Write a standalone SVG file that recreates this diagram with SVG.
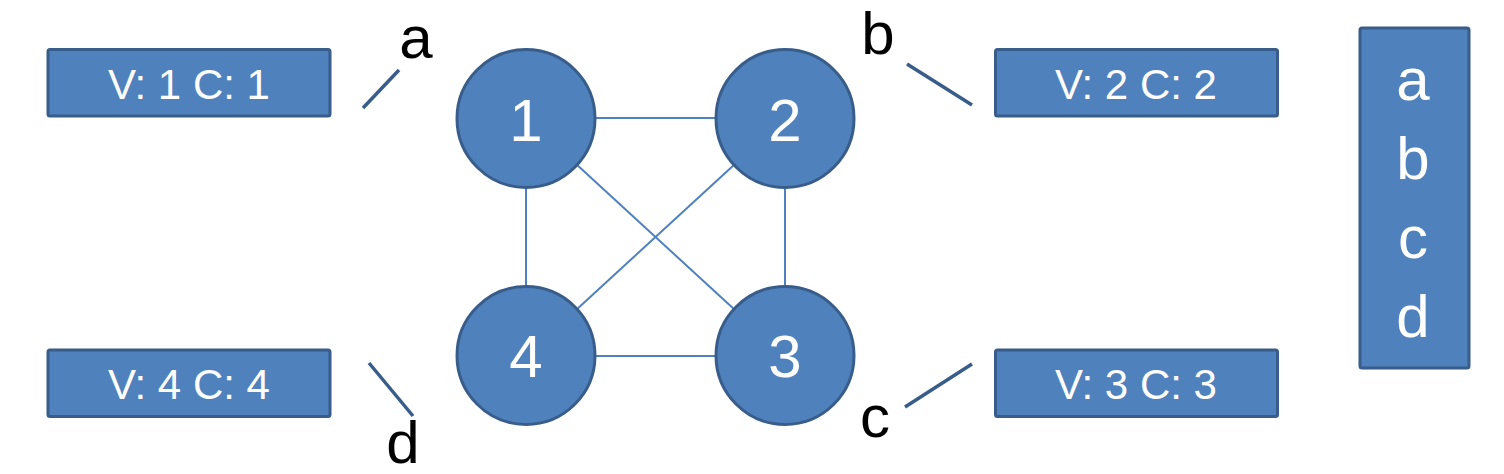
<svg xmlns="http://www.w3.org/2000/svg" width="1504" height="474" viewBox="0 0 1504 474">
<style>
.box{fill:#4f81bd;stroke:#385d8a;stroke-width:3}
.wt{fill:#fff;font-family:"Liberation Sans",Arial,sans-serif;text-anchor:middle}
.bt{fill:#000;font-family:"Liberation Sans",Arial,sans-serif;font-size:60px;text-anchor:middle}
.edge{stroke:#4f81bd;stroke-width:2;fill:none}
.ptr{stroke:#385d8a;stroke-width:3.5;fill:none}
</style>
<rect width="1504" height="474" fill="#fff"/>
<g id="connectors">
<line class="edge" x1="526" y1="118" x2="785" y2="118"/>
<line class="edge" x1="526" y1="118" x2="526" y2="356"/>
<line class="edge" x1="785" y1="118" x2="785" y2="356"/>
<line class="edge" x1="526" y1="356" x2="785" y2="356"/>
<line class="edge" x1="526" y1="118" x2="785" y2="356"/>
<line class="edge" x1="785" y1="118" x2="526" y2="356"/>
<line class="ptr" x1="363" y1="108" x2="399" y2="70"/>
<line class="ptr" x1="907" y1="64" x2="972" y2="105"/>
<line class="ptr" x1="905" y1="407" x2="972" y2="364"/>
<line class="ptr" x1="369" y1="363" x2="413" y2="416"/>
</g>
<g id="n1"><circle class="box" cx="526" cy="118.5" r="69"/><text class="wt" x="526" y="141" font-size="60">1</text></g>
<g id="n2"><circle class="box" cx="785" cy="118.5" r="69"/><text class="wt" x="785" y="141" font-size="60">2</text></g>
<g id="n3"><circle class="box" cx="785" cy="355.5" r="69"/><text class="wt" x="785" y="377" font-size="60">3</text></g>
<g id="n4"><circle class="box" cx="526" cy="355.5" r="69"/><text class="wt" x="526" y="377" font-size="60">4</text></g>
<g id="v1"><rect class="box" x="48" y="49.5" width="282" height="66.5" rx="2"/><text class="wt" x="189" y="99" font-size="42">V: 1 C: 1</text></g>
<g id="v2"><rect class="box" x="995.5" y="49.5" width="282" height="66.5" rx="2"/><text class="wt" x="1136" y="99" font-size="42">V: 2 C: 2</text></g>
<g id="v3"><rect class="box" x="995.5" y="350" width="282" height="66.5" rx="2"/><text class="wt" x="1136" y="399" font-size="42">V: 3 C: 3</text></g>
<g id="v4"><rect class="box" x="48" y="350" width="282" height="66.5" rx="2"/><text class="wt" x="189" y="399" font-size="42">V: 4 C: 4</text></g>
<g id="legend"><rect class="box" x="1360" y="28" width="109" height="340" rx="2"/>
<text class="wt" x="1413" y="100" font-size="60">a</text>
<text class="wt" x="1413" y="179" font-size="60">b</text>
<text class="wt" x="1413" y="258" font-size="60">c</text>
<text class="wt" x="1413" y="337" font-size="60">d</text></g>
<g id="la"><text class="bt" x="416" y="58">a</text></g>
<g id="lb"><text class="bt" x="878" y="54">b</text></g>
<g id="lc"><text class="bt" x="875" y="437">c</text></g>
<g id="ld"><text class="bt" x="403" y="463">d</text></g>
</svg>
